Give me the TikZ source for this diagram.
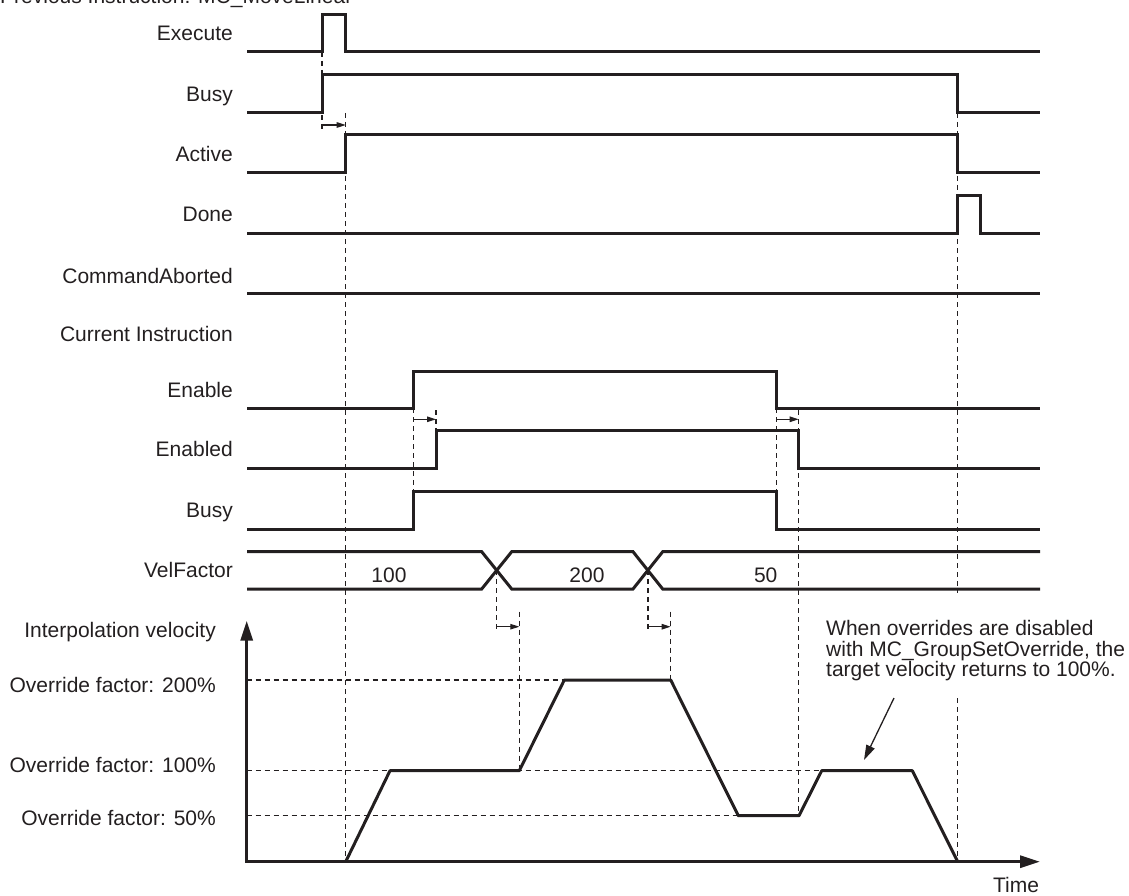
\documentclass[tikz,border=0pt]{standalone}
\usepackage{fontspec}
\setmainfont{Liberation Sans}
\usetikzlibrary{arrows.meta}
\definecolor{ink}{RGB}{35,31,32}

\begin{document}
\begin{tikzpicture}[
    x=1pt, y=-1pt,
    font=\fontsize{21}{20}\selectfont,
    sig/.style={line width=3pt, draw=ink},
    guide/.style={draw=ink, line width=1.1pt, dash pattern=on 5pt off 4pt},
    lbl/.style={anchor=base east, inner sep=0pt, text=ink},
    val/.style={anchor=base, inner sep=0pt, text=ink},
    dly/.style={-{Triangle[length=9pt,width=5.5pt]}, line width=1.2pt, draw=ink},
    ax/.style={{Triangle[length=20pt,width=12pt]}-{Triangle[length=20pt,width=12pt]},
               line width=3pt, draw=ink},
]
\useasboundingbox (0,0) rectangle (1129,896);
% --- header (cut by the frame) ---
\node[anchor=base west, inner sep=0pt, text=ink] (prev) at (0,3.3)
  {Previous Instruction: MC\_MoveLinear};
% --- signal names ---
\foreach \nm/\yb/\txt in {exe/40.5/Execute, pbusy/101.5/Busy, act/161.5/Active,
    done/221.5/Done, abort/283.3/CommandAborted, cur/341/Current Instruction,
    ena/397/Enable, enad/456.5/Enabled, cbusy/517.5/Busy, vel/577.5/VelFactor}
  \node[lbl] (l\nm) at (233,\yb) {\txt};
% --- dashed guides ---
\foreach \gx/\ya/\yb in {322/52/130, 345.7/113/861.7, 957.7/113/593,
    957.7/698/861.7, 413.3/408/491.7, 436/410/430.3, 776.7/408/491.7,
    798.7/410/815.7, 496.7/570.4/632, 519.3/611.7/770.7, 648/570.4/632,
    670.7/611.7/680}
  \draw[guide] (\gx,\ya) -- (\gx,\yb);
\foreach \gy/\gx in {680/564.3, 770.7/821.7, 815.7/738.3}
  \draw[guide] (246.7,\gy) -- (\gx,\gy);
% --- bit signals: low, high, rise, fall ---
\foreach \lo/\hi/\up/\dn in {52/14.5/322/345.7, 113/75/322/957.7,
    173/135/345.7/957.7, 233/196/957.7/980.7, 408/371/413.3/776.7,
    468.3/430.3/436/798.7, 529/491.7/413.3/776.7}
  \draw[sig] (247,\lo) -| (\up,\hi) -| (\dn,\lo) -- (1040,\lo);
\draw[sig] (247,293.3) -- (1040,293.3);
% --- VelFactor bus ---
\draw[sig] (247,551.7) -- (481.7,551.7) -- (511.7,589) -- (633,589)
  -- (662.7,551.7) -- (1040,551.7);
\draw[sig] (247,589) -- (481.7,589) -- (511.7,551.7) -- (633,551.7)
  -- (662.7,589) -- (1040,589);
\node[val] (v100) at (389,582.3) {100};
\node[val] (v200) at (587,582.3) {200};
\node[val] (v50)  at (765.7,582.3) {50};
% --- delays ---
\foreach \a/\b/\y in {322/345.7/125, 413.3/436/419.3, 776.7/798.7/419.3,
    496.7/519.3/626.7, 648/670.7/626.7}
  \draw[dly] (\a,\y) -- (\b,\y);
% --- velocity graph ---
\draw[ax] (246.7,620.7) -- (246.7,861.7) -- (1040,861.7);
\draw[sig, line join=round] (345.7,861.7) -- (390,770.7) -- (519.3,770.7)
  -- (564.3,680) -- (670.7,680) -- (738.3,815.7) -- (799,815.7)
  -- (821.7,770.7) -- (912.3,770.7) -- (957.7,861.7);
\foreach \nm/\yb/\txt in {ivel/637.7/Interpolation velocity,
    of200/692.7/Override factor: 200\%, of100/772.7/Override factor: 100\%,
    of50/825.7/Override factor: 50\%}
  \node[anchor=base east, inner sep=0pt, text=ink] (\nm) at (216,\yb) {\txt};
\node[val] (time) at (1016,892) {Time};
% --- note ---
\node[anchor=north west, inner sep=0pt, align=left, text=ink] (note) at (826,620.5)
  {When overrides are disabled\\[0.5pt]with MC\_GroupSetOverride, the\\target velocity returns to 100\%.};
\coordinate (nfrom) at (894,698);
\coordinate (nto) at (864,760);
\draw[-{Triangle[length=15pt,width=9pt]}, line width=1.3pt, draw=ink] (nfrom) -- (nto);
\end{tikzpicture}
\end{document}
